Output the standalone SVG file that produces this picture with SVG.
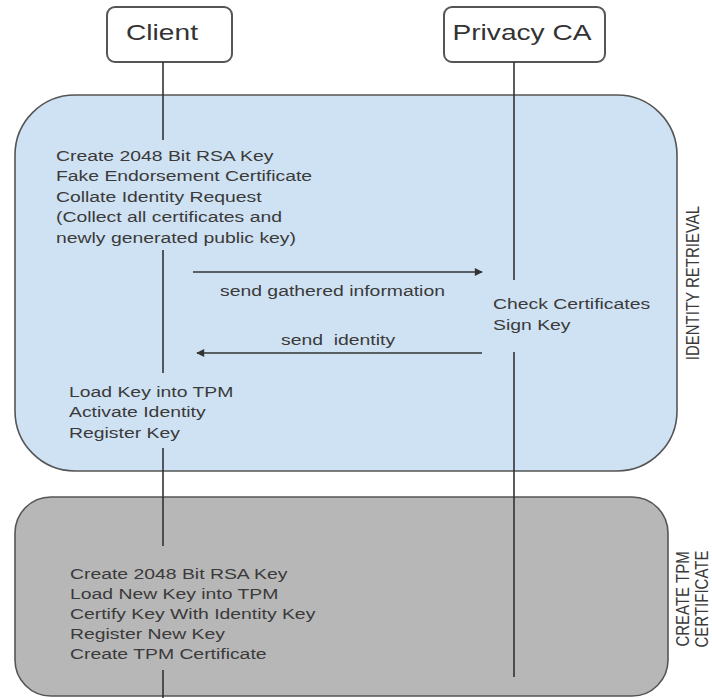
<svg xmlns="http://www.w3.org/2000/svg" width="712" height="698" viewBox="0 0 712 698">
<defs>
<style>
.t{font-family:"Liberation Sans",Arial,sans-serif;font-size:15.5px;fill:#3a3a3a}
.h{font-family:"Liberation Sans",Arial,sans-serif;font-size:22.5px;fill:#333;text-anchor:middle}
.r{font-family:"Liberation Sans",Arial,sans-serif;font-size:15px;fill:#3a3a3a;text-anchor:middle}
.ll{stroke:#333;stroke-width:1.6;fill:none}
.ar{stroke:#333;stroke-width:1.6;fill:none;marker-end:url(#ah)}
</style>
<marker id="ah" viewBox="0 0 10 10" refX="9" refY="5" markerWidth="6" markerHeight="5" markerUnits="strokeWidth" orient="auto">
<path d="M0,0 L10,5 L0,10 z" fill="#333"/>
</marker>
</defs>
<rect width="712" height="698" fill="#ffffff"/>
<g id="identity-retrieval">
<rect x="15" y="95" width="662" height="376" rx="60" ry="60" fill="#cfe2f3" stroke="#555" stroke-width="1.6"/>
<text class="r" transform="translate(699,283) scale(1.25,1) rotate(-90)" x="0" y="0">IDENTITY RETRIEVAL</text>
</g>
<g id="create-tpm-certificate">
<rect x="15" y="497" width="653" height="199" rx="36" ry="36" fill="#b7b7b7" stroke="#555" stroke-width="1.6"/>
<text class="r" transform="translate(689,599) scale(1.25,1) rotate(-90)" x="0" y="0">CREATE TPM</text>
<text class="r" transform="translate(708,599) scale(1.25,1) rotate(-90)" x="0" y="0">CERTIFICATE</text>
</g>
<g id="client">
<rect x="107" y="7" width="125" height="55" rx="8" ry="8" fill="#fff" stroke="#555" stroke-width="2"/>
<text class="h" transform="translate(162,40) scale(1.25,1)" x="0" y="0">Client</text>
</g>
<g id="privacy-ca">
<rect x="444" y="7" width="161" height="55" rx="8" ry="8" fill="#fff" stroke="#555" stroke-width="2"/>
<text class="h" transform="translate(522,40) scale(1.25,1)" x="0" y="0">Privacy CA</text>
</g>
<g id="connectors">
<line class="ll" x1="163" y1="62" x2="163" y2="140"/>
<line class="ll" x1="163" y1="250" x2="163" y2="373"/>
<line class="ll" x1="163" y1="448" x2="163" y2="546"/>
<line class="ll" x1="163" y1="670" x2="163" y2="698"/>
<line class="ll" x1="514" y1="62" x2="514" y2="280"/>
<line class="ll" x1="514" y1="352" x2="514" y2="677"/>
<line class="ar" x1="193" y1="272" x2="482" y2="272"/>
<line class="ar" x1="482" y1="353" x2="197" y2="353"/>
</g>
<g id="client-steps-1">
<text class="t" transform="translate(56,161) scale(1.25,1)">Create 2048 Bit RSA Key</text>
<text class="t" transform="translate(56,181) scale(1.25,1)">Fake Endorsement Certificate</text>
<text class="t" transform="translate(56,202) scale(1.25,1)">Collate Identity Request</text>
<text class="t" transform="translate(56,222) scale(1.25,1)">(Collect all certificates and</text>
<text class="t" transform="translate(56,243) scale(1.25,1)">newly generated public key)</text>
</g>
<g id="label-send-gathered">
<text class="t" transform="translate(220,296) scale(1.25,1)">send gathered information</text>
</g>
<g id="ca-steps">
<text class="t" transform="translate(493,309) scale(1.25,1)">Check Certificates</text>
<text class="t" transform="translate(493,330) scale(1.25,1)">Sign Key</text>
</g>
<g id="label-send-identity">
<text class="t" transform="translate(281,345) scale(1.25,1)" xml:space="preserve">send  identity</text>
</g>
<g id="client-steps-2">
<text class="t" transform="translate(69,397) scale(1.25,1)">Load Key into TPM</text>
<text class="t" transform="translate(69,417) scale(1.25,1)">Activate Identity</text>
<text class="t" transform="translate(69,438) scale(1.25,1)">Register Key</text>
</g>
<g id="client-steps-3">
<text class="t" transform="translate(70,579) scale(1.25,1)">Create 2048 Bit RSA Key</text>
<text class="t" transform="translate(70,599) scale(1.25,1)">Load New Key into TPM</text>
<text class="t" transform="translate(70,619) scale(1.25,1)">Certify Key With Identity Key</text>
<text class="t" transform="translate(70,639) scale(1.25,1)">Register New Key</text>
<text class="t" transform="translate(70,659) scale(1.25,1)">Create TPM Certificate</text>
</g>
</svg>
